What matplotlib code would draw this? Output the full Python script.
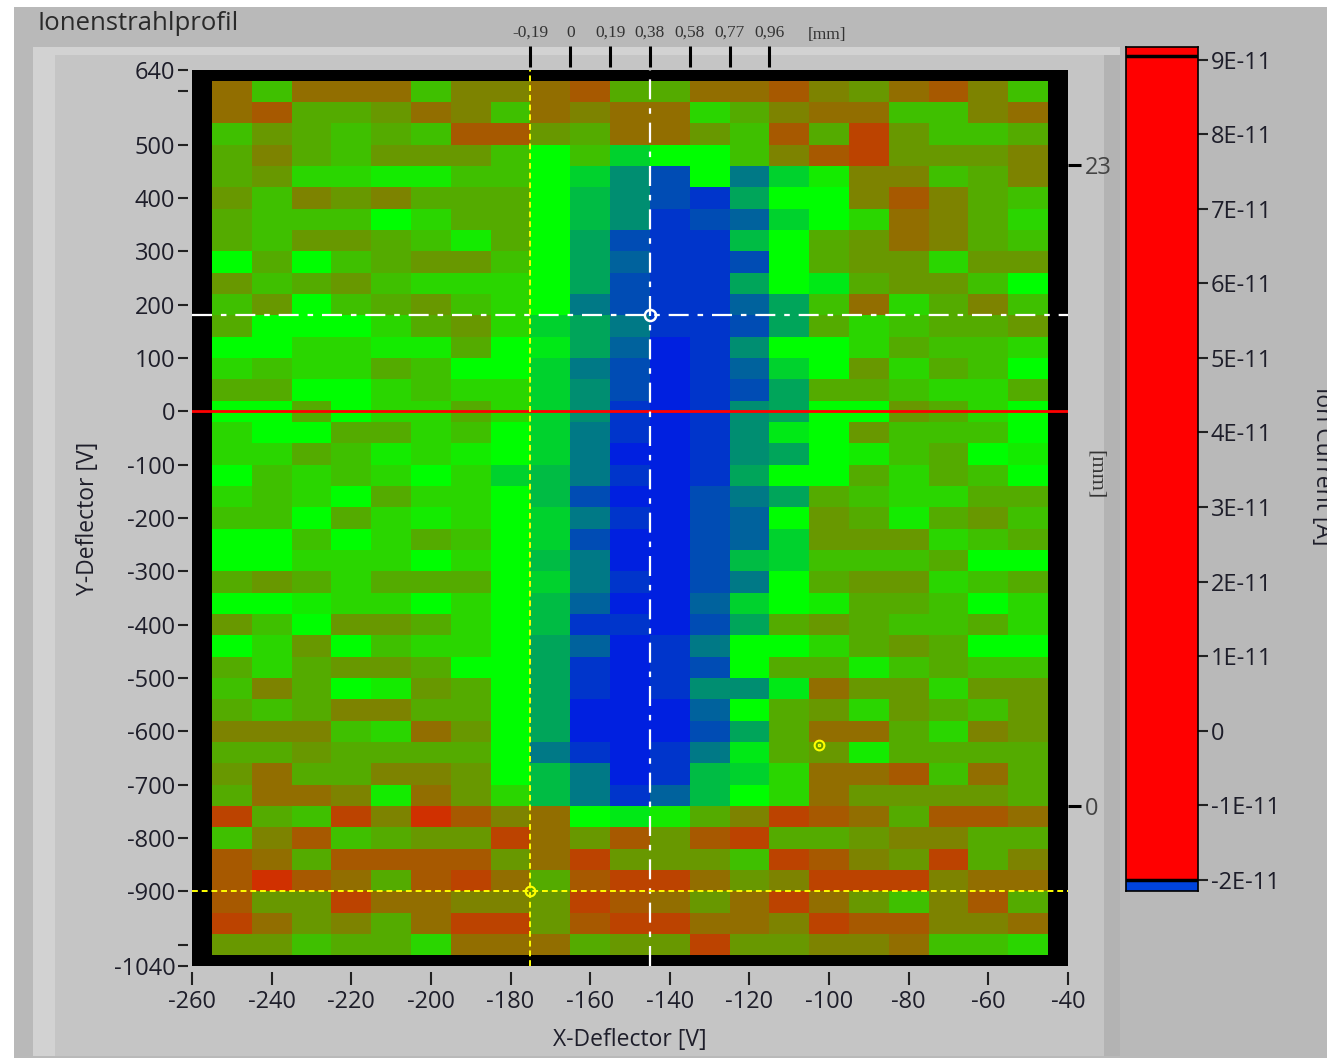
import numpy as np
import matplotlib.pyplot as plt
from matplotlib.colors import LinearSegmentedColormap
from matplotlib.patches import Rectangle

plt.rcParams['font.family'] = ['Open Sans', 'DejaVu Sans']
plt.rcParams['axes.unicode_minus'] = False

# deflector voltages of the scan grid (cell centres)
x_volts = list(range(-250, -49, 10))
y_volts = list(range(600, -1001, -40))

# colour level per cell (0 = red ... 10 = green ... 20 = blue)
levels = [
    [3, 7, 3, 3, 3, 7, 4, 4, 3, 2, 6, 6, 3, 3, 2, 4, 5, 3, 2, 4, 7],
    [3, 2, 6, 6, 5, 3, 4, 7, 3, 4, 3, 3, 8, 6, 4, 3, 3, 7, 7, 4, 3],
    [7, 5, 6, 7, 6, 7, 2, 2, 5, 6, 3, 3, 5, 7, 2, 6, 1, 5, 7, 7, 6],
    [6, 4, 6, 7, 5, 5, 5, 7, 10, 7, 12, 10, 10, 7, 4, 2, 1, 5, 5, 5, 4],
    [6, 5, 8, 8, 9, 9, 7, 7, 10, 12, 15, 18, 10, 16, 12, 9, 4, 4, 7, 6, 4],
    [5, 7, 4, 5, 4, 6, 6, 6, 10, 13, 15, 18, 19, 14, 10, 10, 4, 2, 4, 6, 7],
    [6, 7, 7, 7, 10, 8, 6, 6, 10, 13, 15, 19, 18, 17, 12, 10, 8, 3, 4, 6, 8],
    [6, 7, 5, 5, 6, 7, 9, 6, 10, 14, 18, 19, 19, 13, 10, 6, 5, 3, 4, 6, 7],
    [10, 6, 10, 7, 6, 5, 5, 7, 10, 14, 17, 19, 19, 18, 10, 6, 5, 5, 8, 5, 5],
    [5, 7, 6, 5, 7, 8, 8, 8, 10, 14, 18, 19, 19, 14, 10, 11, 6, 5, 5, 7, 10],
    [7, 5, 10, 7, 6, 5, 7, 8, 10, 16, 18, 19, 19, 17, 14, 7, 3, 8, 6, 4, 7],
    [6, 10, 10, 10, 8, 6, 5, 8, 12, 14, 16, 19, 19, 18, 14, 6, 8, 7, 6, 6, 5],
    [10, 10, 8, 8, 9, 9, 6, 10, 11, 14, 17, 20, 19, 15, 10, 10, 8, 6, 7, 7, 8],
    [8, 7, 8, 8, 6, 7, 10, 10, 12, 16, 18, 20, 19, 17, 12, 10, 5, 8, 6, 7, 10],
    [6, 6, 10, 10, 8, 7, 8, 8, 12, 15, 18, 20, 19, 18, 14, 6, 6, 7, 8, 8, 6],
    [10, 10, 6, 10, 8, 8, 6, 8, 12, 15, 19, 20, 19, 15, 14, 10, 10, 5, 6, 8, 10],
    [8, 10, 10, 6, 6, 8, 7, 10, 12, 16, 19, 20, 19, 15, 11, 10, 5, 7, 7, 7, 10],
    [8, 8, 6, 7, 9, 8, 9, 10, 12, 16, 20, 20, 19, 15, 14, 10, 9, 7, 6, 10, 9],
    [10, 7, 8, 7, 8, 10, 8, 12, 13, 16, 19, 20, 19, 14, 10, 10, 6, 8, 6, 7, 10],
    [8, 7, 8, 10, 6, 8, 8, 10, 13, 18, 20, 20, 18, 16, 14, 6, 7, 8, 8, 6, 6],
    [7, 7, 10, 6, 8, 9, 8, 10, 12, 16, 19, 20, 18, 17, 10, 5, 6, 9, 6, 5, 7],
    [10, 10, 7, 10, 8, 6, 7, 10, 12, 18, 20, 20, 18, 17, 12, 5, 5, 5, 8, 7, 6],
    [10, 10, 8, 8, 8, 10, 8, 10, 13, 16, 20, 20, 18, 13, 12, 7, 7, 7, 6, 10, 10],
    [6, 5, 6, 8, 6, 6, 6, 10, 12, 16, 19, 20, 18, 16, 10, 6, 5, 5, 8, 7, 6],
    [10, 10, 9, 8, 8, 10, 8, 10, 13, 17, 20, 20, 17, 12, 10, 9, 6, 6, 7, 10, 8],
    [5, 7, 10, 5, 5, 6, 8, 10, 13, 19, 19, 20, 18, 14, 6, 5, 6, 7, 7, 6, 8],
    [10, 8, 5, 10, 7, 8, 8, 10, 14, 17, 20, 19, 16, 10, 10, 8, 6, 5, 6, 10, 10],
    [6, 8, 6, 5, 5, 6, 10, 10, 14, 19, 20, 19, 18, 10, 6, 6, 9, 7, 6, 7, 7],
    [7, 4, 6, 10, 9, 5, 6, 10, 14, 19, 20, 19, 15, 15, 11, 3, 5, 5, 8, 5, 5],
    [6, 7, 6, 4, 4, 6, 6, 10, 14, 20, 20, 20, 17, 10, 6, 5, 8, 5, 6, 7, 5],
    [4, 4, 4, 7, 8, 3, 5, 10, 14, 20, 20, 20, 18, 14, 6, 3, 3, 6, 8, 4, 5],
    [6, 6, 5, 6, 6, 6, 6, 10, 16, 19, 20, 19, 16, 11, 6, 5, 9, 6, 6, 6, 6],
    [5, 3, 6, 6, 4, 4, 5, 10, 13, 16, 20, 19, 13, 12, 8, 3, 3, 2, 7, 3, 6],
    [6, 3, 3, 4, 9, 3, 5, 8, 13, 16, 19, 17, 13, 10, 8, 3, 5, 5, 5, 5, 6],
    [1, 6, 7, 1, 4, 0, 2, 4, 3, 10, 11, 9, 6, 4, 1, 2, 3, 6, 2, 2, 3],
    [7, 4, 2, 7, 6, 5, 5, 1, 3, 5, 2, 5, 2, 1, 6, 6, 5, 4, 4, 6, 6],
    [2, 3, 6, 2, 2, 2, 2, 5, 3, 1, 5, 5, 5, 7, 1, 2, 4, 5, 1, 6, 4],
    [2, 0, 2, 3, 6, 2, 1, 3, 6, 2, 1, 1, 3, 5, 4, 1, 1, 1, 4, 3, 3],
    [2, 5, 5, 1, 3, 3, 4, 4, 5, 1, 2, 3, 5, 3, 1, 3, 5, 7, 4, 2, 6],
    [1, 3, 5, 4, 6, 3, 1, 1, 5, 2, 1, 1, 3, 3, 4, 1, 2, 2, 4, 4, 3],
    [5, 5, 7, 6, 6, 8, 3, 3, 3, 6, 5, 5, 1, 5, 5, 4, 4, 3, 7, 7, 8],
]

# cursors and markers
cursor_white = (-145, 180)
cursor_yellow = (-175, -900)
point_yellow = (-102.5, -625)
red_line_y = 0

# axis ticks
x_ticks = [-260, -240, -220, -200, -180, -160, -140, -120, -100, -80, -60, -40]
y_ticks = [640, 600, 500, 400, 300, 200, 100, 0, -100, -200, -300, -400,
           -500, -600, -700, -800, -900, -1000, -1040]
y_labels = ['640', '', '500', '400', '300', '200', '100', '0', '-100', '-200',
            '-300', '-400', '-500', '-600', '-700', '-800', '-900', '', '-1040']
mm_top_pos = [-175, -165, -155, -145, -135, -125, -115]
mm_top_labels = ['-0,19', '0', '0,19', '0,38', '0,58', '0,77', '0,96']
mm_right_pos = [462, -740]
mm_right_labels = ['23', '0']
cbar_ticks = [9, 8, 7, 6, 5, 4, 3, 2, 1, 0, -1, -2]
cbar_labels = ['9E-11', '8E-11', '7E-11', '6E-11', '5E-11', '4E-11', '3E-11',
               '2E-11', '1E-11', '0', '-1E-11', '-2E-11']

W, H = 1340, 1058
txt = '#1e1e2a'
serif = ['Liberation Serif', 'DejaVu Serif']


def fig_rect(fig, x0, y0, x1, y1, color, z=0):
    # rectangle given in pixel coords (origin top left)
    r = Rectangle((x0 / W, 1 - y1 / H), (x1 - x0) / W, (y1 - y0) / H,
                  transform=fig.transFigure, facecolor=color, edgecolor='none', zorder=z)
    fig.add_artist(r)


fig = plt.figure(figsize=(W / 100, H / 100), dpi=100, facecolor='white')

# LabVIEW style background panels
fig_rect(fig, 14, 7, 1327, H, '#b9b9b9', z=-10)
fig_rect(fig, 33, 47, 1120, 1056, '#c5c5c5', z=-9)
fig_rect(fig, 33, 47, 1120, 55, '#d2d2d2', z=-8)
fig_rect(fig, 33, 47, 55, 1056, '#d2d2d2', z=-8)
fig_rect(fig, 1104, 55, 1120, 1056, '#b3b3b3', z=-8)

fig.text(38 / W, 1 - 23 / H, 'Ionenstrahlprofil', fontsize=18.5, color='#2a2a2a',
         va='center', ha='left')

# main intensity plot
ax = fig.add_axes([192 / W, 1 - 966 / H, 876 / W, 896 / H])
ax.set_facecolor('black')
cmap = LinearSegmentedColormap.from_list('beam', ['#d03000', '#00ff00', '#0020e0'])
ax.pcolormesh(x_volts, y_volts, np.array(levels), cmap=cmap, vmin=0, vmax=20,
              shading='nearest')
ax.set_xlim(-260, -40)
ax.set_ylim(-1040, 640)
for s in ax.spines.values():
    s.set_visible(False)
ax.spines['bottom'].set_position(('outward', 4))
ax.spines['left'].set_position(('outward', 3))

ax.set_xticks(x_ticks)
ax.set_yticks(y_ticks)
ax.set_yticklabels(y_labels)
ax.tick_params(axis='x', direction='out', length=9, width=1.5, color='#222222',
               labelsize=17, labelcolor=txt, pad=4)
ax.tick_params(axis='y', direction='out', length=7, width=1.5, color='#222222',
               labelsize=17, labelcolor=txt, pad=2)
ax.set_xlabel('X-Deflector [V]', fontsize=16.5, color=txt, labelpad=10)
ax.set_ylabel('Y-Deflector [V]', fontsize=16.5, color=txt, labelpad=10)

# cursors
ax.axhline(red_line_y, color='#ff0000', lw=2)
ax.axvline(cursor_white[0], color='white', lw=1.6, ls=(0, (9, 4, 2.5, 4)))
ax.axhline(cursor_white[1], color='white', lw=1.6, ls=(0, (9, 4, 2.5, 4)))
ax.plot(*cursor_white, 'o', ms=8, mfc='none', mec='white', mew=1.8)
ax.axvline(cursor_yellow[0], color='#ffff00', lw=1.4, ls=(0, (3, 2)))
ax.axhline(cursor_yellow[1], color='#ffff00', lw=1.4, ls=(0, (3, 2)))
ax.plot(*cursor_yellow, 'o', ms=7, mfc='none', mec='#ffff00', mew=1.5)
ax.plot(*point_yellow, 'o', ms=7, mfc='none', mec='#ffff00', mew=1.5)
ax.plot(*point_yellow, 's', ms=2, mfc='none', mec='#ffff00', mew=1)

# top mm scale
axt = ax.twiny()
axt.set_xlim(ax.get_xlim())
for s in axt.spines.values():
    s.set_visible(False)
axt.spines['top'].set_position(('outward', 2))
axt.set_xticks(mm_top_pos)
axt.set_xticklabels(mm_top_labels, family=serif)
axt.tick_params(axis='x', direction='out', length=15, width=2.2, color='black',
                labelsize=12.5, labelcolor='#333333', pad=4)
fig.text(827 / W, 1 - 35 / H, '[mm]', fontsize=12.5, color='#333333', ha='center',
         va='center', family=serif)

# right mm scale
axr = ax.twinx()
axr.set_ylim(ax.get_ylim())
for s in axr.spines.values():
    s.set_visible(False)
axr.set_yticks(mm_right_pos)
axr.set_yticklabels(mm_right_labels)
axr.tick_params(axis='y', direction='out', length=9, width=2.2, color='black',
                labelsize=17, labelcolor='#444444', pad=3)
fig.text(1095 / W, 1 - 475 / H, '[mm]', fontsize=16, color='#333333', ha='center',
         va='center', rotation=270, family=serif)

# colour scale
cax = fig.add_axes([1126 / W, 1 - 891 / H, 72 / W, 844 / H])
cax.set_xlim(0, 1)
cax.set_ylim(-2.15, 9.17)
cax.axhspan(-2.0, 9.17, color='#ff0000', lw=0)
cax.axhspan(-2.15, -2.0, color='#0044dd', lw=0)
cax.axhline(9.05, color='black', lw=2.5)
cax.axhline(-2.0, color='black', lw=2.5)
cax.set_xticks([])
cax.set_yticks(cbar_ticks)
cax.set_yticklabels(cbar_labels)
cax.yaxis.tick_right()
for s in cax.spines.values():
    s.set_color('black')
    s.set_linewidth(1.2)
cax.tick_params(axis='y', direction='out', length=7, width=1.5, color='#222222',
                labelsize=17, labelcolor=txt, pad=2)
fig.text(1322 / W, 1 - 466 / H, 'Ion Current [A]', fontsize=16.5, color=txt,
         ha='center', va='center', rotation=270, zorder=1)
fig_rect(fig, 1327, 0, W, H, 'white', z=20)

fig.savefig('out.png', dpi=100, facecolor=fig.get_facecolor())
